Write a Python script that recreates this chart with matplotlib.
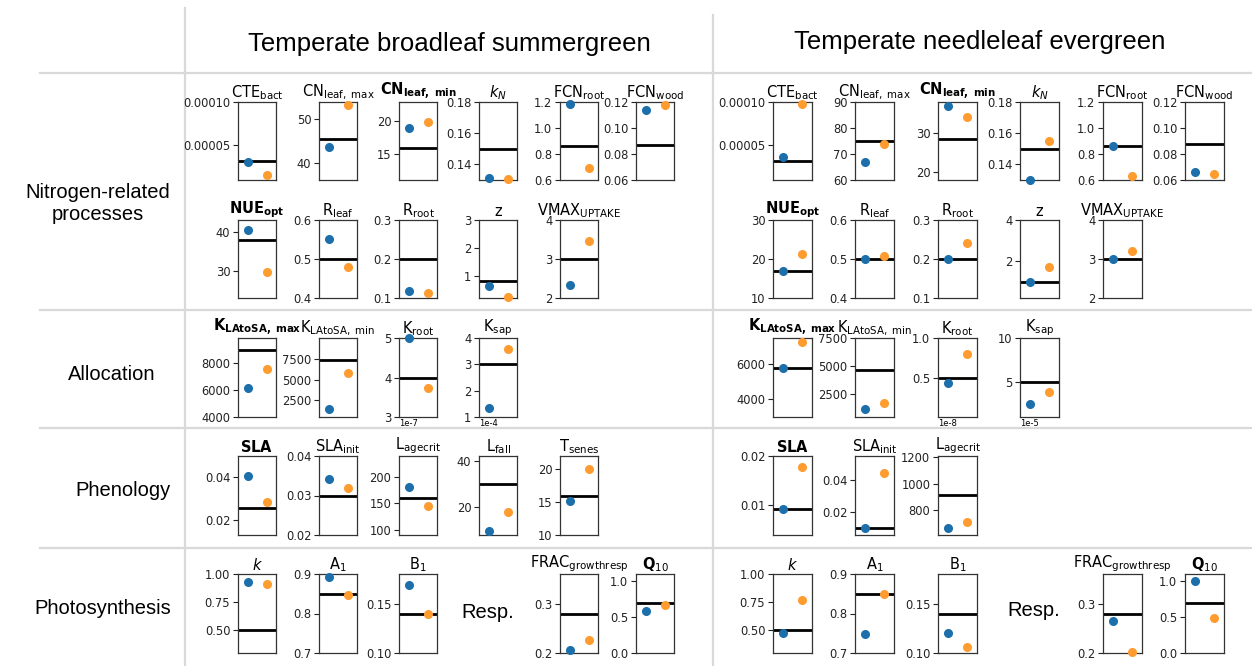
import math
import matplotlib
matplotlib.use('Agg')
import matplotlib.pyplot as plt

W, H = 1252, 666

# parameter order and titles
params = ['CTE', 'CNmax', 'CNmin', 'kN', 'FCNroot', 'FCNwood',
          'NUE', 'Rleaf', 'Rroot', 'z', 'VMAX',
          'KLAmax', 'KLAmin', 'Kroot', 'Ksap',
          'SLA', 'SLAinit', 'Lagecrit', 'Lfall', 'Tsenes',
          'k', 'A1', 'B1', 'FRAC', 'Q10']
titles = [r'$\mathrm{CTE_{bact}}$', r'$\mathrm{CN_{leaf,\ max}}$', r'$\mathbf{CN_{leaf,\ min}}$',
          r'$k_N$', r'$\mathrm{FCN_{root}}$', r'$\mathrm{FCN_{wood}}$',
          r'$\mathbf{NUE_{opt}}$', r'$\mathrm{R_{leaf}}$', r'$\mathrm{R_{root}}$',
          r'$\mathrm{z}$', r'$\mathrm{VMAX_{UPTAKE}}$',
          r'$\mathbf{K_{LAtoSA,\ max}}$', r'$\mathrm{K_{LAtoSA,\ min}}$',
          r'$\mathrm{K_{root}}$', r'$\mathrm{K_{sap}}$',
          r'$\mathbf{SLA}$', r'$\mathrm{SLA_{init}}$', r'$\mathrm{L_{agecrit}}$',
          r'$\mathrm{L_{fall}}$', r'$\mathrm{T_{senes}}$',
          r'$k$', r'$\mathrm{A_1}$', r'$\mathrm{B_1}$',
          r'$\mathrm{FRAC_{growthresp}}$', r'$\mathbf{Q}_{10}$']

# Temperate broadleaf summergreen
bs_default = [3.15e-5, 45.6, 16.0, 0.15, 0.861, 0.0869,
              38.0, 0.5, 0.2, 0.8, 3.0,
              9000, 7300, 4.0e-7, 3.0e-4,
              0.0258, 0.03, 160, 30, 16,
              0.5, 0.85, 0.14, 0.28, 0.69]
bs_blue = [3.1e-5, 43.7, 18.9, 0.131, 1.187, 0.1136,
           40.4, 0.55, 0.119, 0.647, 2.33,
           6150, 1520, 4.99e-7, 1.34e-4,
           0.0408, 0.0343, 181.5, 9.9, 15.2,
           0.926, 0.892, 0.169, 0.207, 0.584]
bs_orange = [1.54e-5, 53.2, 19.85, 0.1305, 0.69, 0.118,
             29.75, 0.479, 0.112, 0.22, 3.47,
             7550, 5810, 3.73e-7, 3.59e-4,
             0.0285, 0.0318, 145.5, 17.9, 20.0,
             0.909, 0.8467, 0.140, 0.227, 0.672]
bs_ylim = [(1e-5, 1e-4), (36.2, 53.9), (11.1, 22.9), (0.13, 0.18), (0.6, 1.2), (0.06, 0.12),
           (23, 43), (0.4, 0.6), (0.1, 0.3), (0.2, 3), (2, 4),
           (4000, 9875), (500, 10000), (3, 5), (1, 4),
           (0.013, 0.05), (0.02, 0.04), (90, 240), (8, 42), (10, 22),
           (0.3, 1.0), (0.7, 0.9), (0.10, 0.18), (0.2, 0.36), (0, 1.1)]
bs_ticks = [[5e-5, 1e-4], [40, 50], [15, 20], [0.14, 0.16, 0.18], [0.6, 0.8, 1.0, 1.2],
            [0.06, 0.08, 0.10, 0.12],
            [30, 40], [0.4, 0.5, 0.6], [0.1, 0.2, 0.3], [1, 2, 3], [2, 3, 4],
            [4000, 6000, 8000], [2500, 5000, 7500], [3, 4, 5], [1, 2, 3, 4],
            [0.02, 0.04], [0.02, 0.03, 0.04], [100, 150, 200], [20, 40], [10, 15, 20],
            [0.5, 0.75, 1.0], [0.7, 0.8, 0.9], [0.10, 0.15], [0.2, 0.3], [0.0, 0.5, 1.0]]
bs_scale = {'Kroot': 1e-7, 'Ksap': 1e-4}

# Temperate needleleaf evergreen (no Lfall / Tsenes)
ne_default = [3.2e-5, 75.0, 28.3, 0.15, 0.86, 0.0875,
              17.0, 0.5, 0.2, 1.0, 3.0,
              5770, 4600, 0.5e-8, 5e-5,
              0.0092, 0.0098, 912, None, None,
              0.5, 0.85, 0.14, 0.28, 0.69]
ne_blue = [3.66e-5, 66.9, 36.8, 0.13, 0.86, 0.0664,
           17.0, 0.5, 0.2, 1.0, 3.0,
           5770, 1080, 0.43e-8, 2.5e-5,
           0.0092, 0.0098, 664, None, None,
           0.473, 0.747, 0.12, 0.265, 1.0]
ne_orange = [9.75e-5, 73.7, 34.0, 0.155, 0.63, 0.0649,
             21.4, 0.507, 0.242, 1.73, 3.2,
             7300, 1680, 0.80e-8, 3.8e-5,
             0.0178, 0.0442, 712, None, None,
             0.768, 0.849, 0.1065, 0.203, 0.486]
ne_ylim = [(1e-5, 1e-4), (60, 90), (18, 37.8), (0.13, 0.18), (0.6, 1.2), (0.06, 0.12),
           (10, 30), (0.4, 0.6), (0.1, 0.3), (0.2, 4), (2, 4),
           (3000, 7500), (400, 7500), (0, 1), (1, 10),
           (0.004, 0.02), (0.0055, 0.055), (610, 1210), None, None,
           (0.3, 1.0), (0.7, 0.9), (0.10, 0.18), (0.2, 0.362), (0, 1.1)]
ne_ticks = [[5e-5, 1e-4], [60, 70, 80, 90], [20, 30], [0.14, 0.16, 0.18], [0.6, 0.8, 1.0, 1.2],
            [0.06, 0.08, 0.10, 0.12],
            [10, 20, 30], [0.4, 0.5, 0.6], [0.1, 0.2, 0.3], [2, 4], [2, 3, 4],
            [4000, 6000], [2500, 5000, 7500], [0.5, 1.0], [5, 10],
            [0.01, 0.02], [0.02, 0.04], [800, 1000, 1200], None, None,
            [0.5, 0.75, 1.0], [0.7, 0.8, 0.9], [0.10, 0.15], [0.2, 0.3], [0.0, 0.5, 1.0]]
ne_scale = {'Kroot': 1e-8, 'Ksap': 1e-5}

pft_titles = ['Temperate broadleaf summergreen', 'Temperate needleleaf evergreen']
row_labels = ['Nitrogen-related\nprocesses', 'Allocation', 'Phenology', 'Photosynthesis']

# layout (pixels): slot = sub-row, col = position in the row
slot_of = [0, 0, 0, 0, 0, 0, 1, 1, 1, 1, 1, 2, 2, 2, 2, 3, 3, 3, 3, 3, 4, 4, 4, 4, 4]
col_of = [0, 1, 2, 3, 4, 5, 0, 1, 2, 3, 4, 0, 1, 2, 3, 0, 1, 2, 3, 4, 0, 1, 2, 4, 5]
slot_y = [(102, 180), (220, 298), (338, 417), (456, 535), (574, 653)]
col_x = [[238, 319, 399, 479, 560, 636], [773, 855, 938, 1020, 1103, 1185]]
ax_w = [38, 39]

BLUE = '#1c6fab'
ORANGE = '#ff9c30'
GRID = '#d9d9d9'

fig = plt.figure(figsize=(W / 100, H / 100), dpi=100)
fig.patch.set_facecolor('white')

# background axes in pixel coordinates for separators and labels
bg = fig.add_axes([0, 0, 1, 1], zorder=0)
bg.set_xlim(0, W)
bg.set_ylim(H, 0)
bg.axis('off')
bg.plot([185, 185], [8, H], color=GRID, lw=1.6)
bg.plot([713, 713], [15, H], color=GRID, lw=1.6)
for yy in [73, 310, 428, 548]:
    bg.plot([40, W], [yy, yy], color=GRID, lw=1.6)

big = ['Liberation Sans', 'DejaVu Sans']
bg.text(449, 44, pft_titles[0], ha='center', va='center', fontsize=18.5, family=big)
bg.text(980, 42, pft_titles[1], ha='center', va='center', fontsize=18.5, family=big)
for (lx, ly), lab in zip([(98, 203), (112, 375), (123, 490), (103, 609)], row_labels):
    bg.text(lx, ly, lab, ha='center', va='center', fontsize=14.5, family=big,
            multialignment='center', linespacing=1.2)
bg.text(488, 612, 'Resp.', ha='center', va='center', fontsize=14.5, family=big)
bg.text(1034, 610, 'Resp.', ha='center', va='center', fontsize=14.5, family=big)

pfts = [(bs_default, bs_blue, bs_orange, bs_ylim, bs_ticks, bs_scale),
        (ne_default, ne_blue, ne_orange, ne_ylim, ne_ticks, ne_scale)]

for p, (dflt, blue, orange, ylims, ticks, scales) in enumerate(pfts):
    for i, name in enumerate(params):
        if dflt[i] is None:
            continue
        y0, y1 = slot_y[slot_of[i]]
        x0 = col_x[p][col_of[i]]
        ax = fig.add_axes([x0 / W, 1 - y1 / H, ax_w[p] / W, (y1 - y0) / H], zorder=2)
        sc = scales.get(name, 1.0)
        ax.axhline(dflt[i] / sc, color='black', lw=2, zorder=2)
        ax.plot([0], [blue[i] / sc], 'o', color=BLUE, ms=5.5, clip_on=False, zorder=3)
        ax.plot([1], [orange[i] / sc], 'o', color=ORANGE, ms=5.5, clip_on=False, zorder=3)
        ax.set_xlim(-0.5, 1.5)
        ax.set_ylim(*ylims[i])
        ax.set_yticks(ticks[i])
        ax.ticklabel_format(axis='y', style='plain', useOffset=False)
        ax.set_xticks([])
        ax.tick_params(axis='y', labelsize=8.3, length=3.5, width=0.8, pad=2, colors='#222222')
        for sp in ax.spines.values():
            sp.set_color('#333333')
            sp.set_linewidth(0.9)
        ax.set_title(titles[i], fontsize=10.5, pad=3)
        if sc != 1.0:
            ax.text(0, -0.02, '1e%d' % round(math.log10(sc)),
                    transform=ax.transAxes, ha='left', va='top', fontsize=6)

fig.savefig('out.png', dpi=100, facecolor='white')
